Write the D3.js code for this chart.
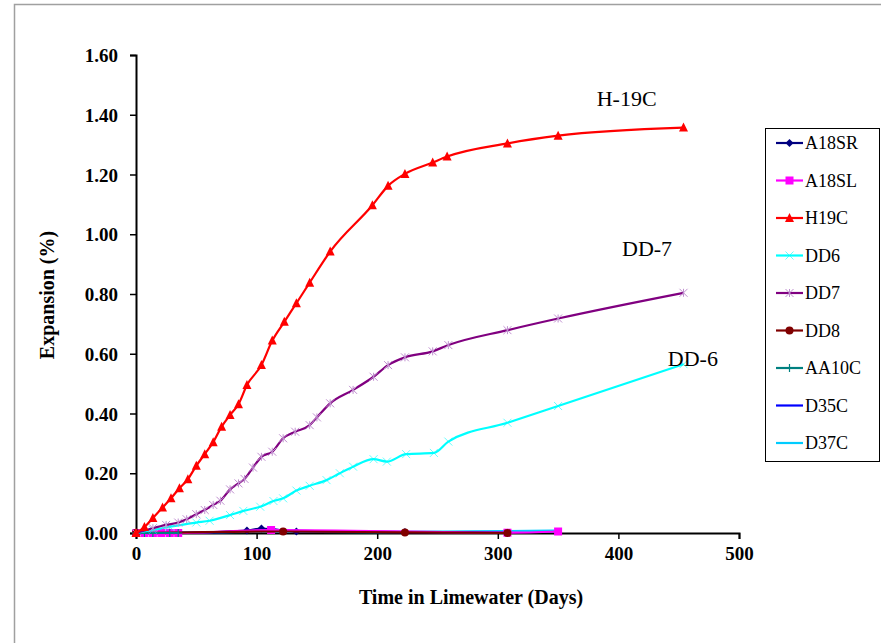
<!DOCTYPE html>
<html>
<head>
<meta charset="utf-8">
<script src="https://cdn.jsdelivr.net/npm/d3@7"></script>
<style>
  body { margin: 0; background: #fff; }
  svg { display: block; }
</style>
</head>
<body>
<div id="chart"></div>
<script>
// series data (days, expansion %)
var h19cDays = [0, 7, 14, 22, 29, 36, 43, 50, 57, 64, 71, 78, 85, 92, 104, 113, 123, 133, 144, 161, 196, 209, 223, 246, 258, 308, 350, 454];
var h19cVals = [0, 0.02, 0.05, 0.085, 0.116, 0.15, 0.18, 0.225, 0.264, 0.304, 0.356, 0.395, 0.431, 0.495, 0.562, 0.644, 0.707, 0.769, 0.838, 0.942, 1.097, 1.162, 1.202, 1.240, 1.26, 1.304, 1.33, 1.357];

var dd7Days = [0, 14, 25, 35, 42, 50, 57, 64, 70, 78, 85, 90, 97, 104, 113, 122, 132, 144, 150, 161, 180, 197, 209, 223, 246, 259, 308, 350, 454];
var dd7Vals = [0, 0.016, 0.027, 0.035, 0.046, 0.063, 0.077, 0.094, 0.108, 0.146, 0.166, 0.181, 0.219, 0.255, 0.272, 0.317, 0.339, 0.361, 0.387, 0.434, 0.479, 0.523, 0.562, 0.588, 0.608, 0.629, 0.679, 0.718, 0.804];

var dd6Days = [0, 14, 28, 50, 61, 78, 89, 103, 114, 122, 133, 144, 158, 169, 180, 197, 208, 224, 247, 259, 308, 350, 454];
var dd6Vals = [0, 0.01, 0.021, 0.035, 0.041, 0.06, 0.074, 0.088, 0.107, 0.116, 0.142, 0.158, 0.177, 0.2, 0.222, 0.247, 0.239, 0.264, 0.268, 0.306, 0.369, 0.425, 0.565];

var a18srDays = [0, 7, 14, 21, 28, 35, 92, 104, 133, 223, 308];
var a18srVals = [0, 0, 0, 0, 0, 0, 0.008, 0.015, 0.005, 0.003, 0.001];

var a18slDays = [0, 7, 14, 21, 28, 35, 112, 308, 350];
var a18slVals = [0, 0, 0, 0, 0, 0, 0.01, 0.001, 0.005];

var dd8Days = [0, 122, 223, 308];
var dd8Vals = [0, 0.005, 0.002, 0];

var aa10cDays = [0, 7, 14, 28, 35];
var aa10cVals = [0, 0, 0, 0, 0];

var d35cDays = [0, 50, 90, 105, 130, 200, 260, 308, 350];
var d35cVals = [0, 0.001, 0.005, 0.012, 0.008, 0.004, 0.003, 0.004, 0.006];

var d37cDays = [0, 35, 100, 200, 308, 350];
var d37cVals = [0, 0.002, 0.004, 0.003, 0.006, 0.008];

var seriesNames = ["A18SR", "A18SL", "H19C", "DD6", "DD7", "DD8", "AA10C", "D35C", "D37C"];
var seriesColors = ["#000080", "#FF00FF", "#FF0000", "#00FFFF", "#800080", "#800000", "#008080", "#0000FF", "#00CCFF"];
var seriesMarkers = ["diamond", "square", "triangle", "x", "asterisk", "circle", "plus", "none", "none"];

var xTicks = [0, 100, 200, 300, 400, 500];
var yTicks = [0, 0.2, 0.4, 0.6, 0.8, 1.0, 1.2, 1.4, 1.6];

var curveLabels = [
  { text: "H-19C", day: 382, val: 1.43 },
  { text: "DD-7", day: 403, val: 0.927 },
  { text: "DD-6", day: 441, val: 0.56 }
];

var seriesData = [
  [a18srDays, a18srVals], [a18slDays, a18slVals], [h19cDays, h19cVals],
  [dd6Days, dd6Vals], [dd7Days, dd7Vals], [dd8Days, dd8Vals],
  [aa10cDays, aa10cVals], [d35cDays, d35cVals], [d37cDays, d37cVals]
];

var serif = "'Liberation Serif', 'Times New Roman', serif";
var width = 881, height = 643;
var svg = d3.select("#chart").append("svg").attr("width", width).attr("height", height);

// outer frame
svg.append("rect")
  .attr("x", 14.5).attr("y", 4.5).attr("width", 900).attr("height", 700)
  .attr("fill", "none").attr("stroke", "#a0a0a0").attr("stroke-width", 1.5);

var x = d3.scaleLinear().domain([0, 500]).range([136, 739]);
var y = d3.scaleLinear().domain([0, 1.6]).range([533, 55]);

// axes
var xAxis = svg.append("g").attr("transform", "translate(0,533)")
  .call(d3.axisBottom(x).tickValues(xTicks).tickSize(6).tickPadding(8).tickFormat(d3.format("d")));
var yAxis = svg.append("g").attr("transform", "translate(136,0)")
  .call(d3.axisLeft(y).tickValues(yTicks).tickSize(6).tickPadding(12).tickFormat(d3.format(".2f")));

[xAxis, yAxis].forEach(function (a) {
  a.select(".domain").attr("stroke", "#000").attr("stroke-width", 2);
  a.selectAll(".tick line").attr("stroke", "#000").attr("stroke-width", 1.5);
  a.selectAll(".tick text")
    .style("font-family", serif)
    .style("font-weight", "bold")
    .style("font-size", "19px")
    .attr("fill", "#000");
});
yAxis.selectAll(".tick text").attr("dy", "0.35em");

svg.append("text")
  .attr("x", 471).attr("y", 604)
  .attr("text-anchor", "middle")
  .style("font-family", serif)
  .style("font-weight", "bold").style("font-size", "20px")
  .text("Time in Limewater (Days)");

svg.append("text")
  .attr("transform", "translate(54,295) rotate(-90)")
  .attr("text-anchor", "middle")
  .style("font-family", serif)
  .style("font-weight", "bold").style("font-size", "20px")
  .text("Expansion (%)");

// marker drawer
function drawMarker(g, type, color, size) {
  var s = size;
  if (type === "diamond") {
    g.append("path").attr("d", "M0," + (-s) + "L" + s + ",0L0," + s + "L" + (-s) + ",0Z").attr("fill", color);
  } else if (type === "square") {
    g.append("rect").attr("x", -s).attr("y", -s).attr("width", 2 * s).attr("height", 2 * s).attr("fill", color);
  } else if (type === "triangle") {
    g.append("path").attr("d", "M0," + (-s - 1) + "L" + (s + 0.5) + "," + s + "L" + (-s - 0.5) + "," + s + "Z").attr("fill", color);
  } else if (type === "circle") {
    g.append("circle").attr("r", s).attr("fill", color);
  } else if (type === "x") {
    g.append("path").attr("d", "M" + (-s) + "," + (-s) + "L" + s + "," + s + "M" + (-s) + "," + s + "L" + s + "," + (-s))
      .attr("stroke", color).attr("stroke-width", 1).attr("opacity", 0.6);
  } else if (type === "asterisk") {
    g.append("path").attr("d", "M" + (-s) + "," + (-s) + "L" + s + "," + s + "M" + (-s) + "," + s + "L" + s + "," + (-s) + "M0," + (-s) + "L0," + s)
      .attr("stroke", "#c090d0").attr("stroke-width", 1);
  } else if (type === "plus") {
    g.append("path").attr("d", "M" + (-s) + ",0L" + s + ",0M0," + (-s) + "L0," + s)
      .attr("stroke", color).attr("stroke-width", 1.2);
  }
}

var line = d3.line()
  .x(function (d) { return x(d[0]); })
  .y(function (d) { return y(d[1]); })
  .curve(d3.curveMonotoneX);

// draw near-zero series first, main curves on top
var drawOrder = [7, 8, 0, 1, 5, 6, 3, 4, 2];
drawOrder.forEach(function (i) {
  var days = seriesData[i][0], vals = seriesData[i][1];
  var pts = days.map(function (d, k) { return [d, vals[k]]; });
  svg.append("path")
    .datum(pts)
    .attr("d", line)
    .attr("fill", "none")
    .attr("stroke", seriesColors[i])
    .attr("stroke-width", 2.2);
  if (seriesMarkers[i] !== "none") {
    pts.forEach(function (p) {
      var g = svg.append("g").attr("transform", "translate(" + x(p[0]) + "," + y(p[1]) + ")");
      drawMarker(g, seriesMarkers[i], seriesColors[i], 4);
    });
  }
});

// curve labels
curveLabels.forEach(function (c) {
  svg.append("text")
    .attr("x", x(c.day)).attr("y", y(c.val))
    .style("font-family", serif)
    .style("font-size", "22px")
    .text(c.text);
});

// legend
var legend = svg.append("g");
legend.append("rect")
  .attr("x", 765.5).attr("y", 128.5).attr("width", 114).attr("height", 333)
  .attr("fill", "#fff").attr("stroke", "#000").attr("stroke-width", 1);

seriesNames.forEach(function (name, i) {
  var ly = 143 + i * 37.5;
  legend.append("line")
    .attr("x1", 776).attr("x2", 803).attr("y1", ly).attr("y2", ly)
    .attr("stroke", seriesColors[i]).attr("stroke-width", 2.2);
  if (seriesMarkers[i] !== "none") {
    var g = legend.append("g").attr("transform", "translate(789.5," + ly + ")");
    drawMarker(g, seriesMarkers[i], seriesColors[i], 4);
  }
  legend.append("text")
    .attr("x", 805).attr("y", ly).attr("dy", "0.35em")
    .style("font-family", serif)
    .style("font-size", "18px")
    .text(name);
});
</script>
</body>
</html>
